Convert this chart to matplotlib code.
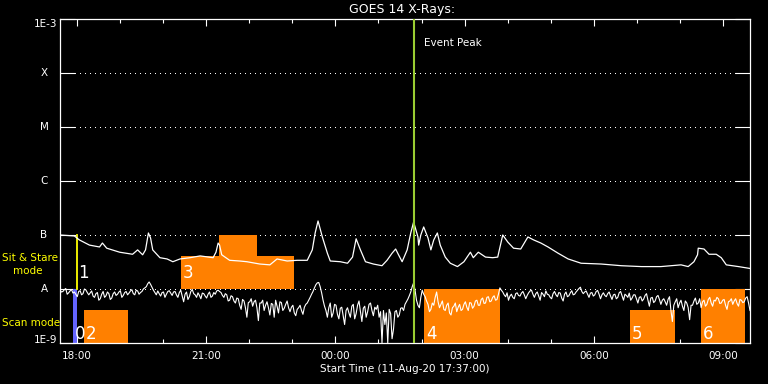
import numpy as np
import matplotlib
matplotlib.use("Agg")
import matplotlib.pyplot as plt
from matplotlib.patches import Rectangle
import matplotlib.transforms as mtransforms
from matplotlib.ticker import NullLocator

# ---------------- data ----------------
title = "GOES 14 X-Rays:"
xlabel = "Start Time (11-Aug-20 17:37:00)"
span_minutes = 960  # 17:37 -> 09:37

# long channel (1-8 A): minutes after 17:37, flux in units of 1e-8 W/m^2
long_t = [0, 20, 27, 41, 55, 59, 65, 83, 101, 108,
          115, 119, 123, 126, 129, 139, 149, 157, 167, 181,
          195, 213, 217, 220, 222, 225, 236, 250, 260, 278,
          292, 302, 316, 330, 344, 351, 355, 359, 365, 372,
          376, 390, 400, 407, 412, 418, 425, 436, 448, 455,
          462, 467, 471, 476, 483, 488, 492, 498, 499, 502,
          506, 512, 516, 520, 525, 529, 536, 543, 553, 562,
          571, 575, 582, 592, 602, 609, 616, 623, 631, 641,
          651, 659, 669, 679, 693, 707, 725, 753, 781, 809,
          836, 864, 874, 882, 887, 888, 896, 903, 913, 920,
          927, 944, 960]
long_flux_e8 = [10, 9.6, 8.1, 6.5, 6.0, 7.1, 5.7, 4.8, 4.4, 5.3,
                4.3, 5.3, 10.9, 8.8, 5.3, 3.8, 3.6, 3.2, 3.6, 3.8,
                4.1, 3.8, 4.8, 7.1, 6.5, 4.3, 3.4, 3.3, 3.2, 2.9,
                2.8, 3.6, 3.3, 3.4, 3.4, 5.3, 10.9, 18.2, 9.2, 4.6,
                3.3, 3.2, 3.0, 3.9, 8.5, 5.3, 3.2, 2.9, 2.7, 3.4,
                4.6, 5.5, 4.3, 3.2, 5.3, 10.9, 17.4, 9.2, 6.5, 10,
                14.1, 8.8, 5.3, 8.1, 10.9, 6.5, 3.9, 3.0, 2.6, 3.2,
                4.8, 3.8, 4.8, 3.9, 3.8, 3.9, 10, 7.4, 5.7, 5.5,
                9.2, 8.1, 7.1, 6.0, 4.6, 3.6, 3.0, 2.9, 2.7, 2.6,
                2.6, 2.8, 2.6, 3.2, 4.3, 5.7, 5.5, 4.4, 4.4, 3.8,
                2.8, 2.6, 2.4]

# short channel (0.5-4 A): one sample every 2 minutes, units of 1e-8 W/m^2
short_step_min = 2
short_flux_e8 = [
    0.95, 0.88, 0.90, 0.97, 1.02, 0.80, 0.85, 0.92, 0.98, 0.84, 0.88, 0.80, 0.72, 0.90, 0.93, 0.78, 0.82, 1.00, 0.96, 0.86,
    0.78, 0.85, 0.92, 0.74, 0.70, 0.82, 0.86, 0.62, 0.66, 0.80, 0.90, 0.70, 0.75, 0.88, 0.82, 0.64, 0.68, 0.82, 0.88, 0.76,
    0.80, 0.88, 0.93, 0.70, 0.76, 0.86, 0.90, 0.78, 0.84, 0.92, 0.97, 0.82, 0.78, 0.95, 0.92, 0.80, 0.86, 0.90, 1.00, 1.05,
    1.10, 1.25, 1.35, 1.22, 1.08, 0.95, 0.86, 0.78, 0.92, 0.82, 0.74, 0.86, 0.88, 0.70, 0.80, 0.90, 0.93, 0.84, 0.76, 0.88,
    0.90, 0.78, 0.70, 0.86, 0.95, 0.74, 0.58, 0.80, 0.88, 0.64, 0.72, 0.90, 0.98, 0.82, 0.78, 0.70, 0.85, 0.76, 0.66, 0.84,
    0.82, 0.74, 0.68, 0.80, 0.88, 0.70, 0.74, 0.86, 0.80, 0.92, 0.95, 0.90, 0.86, 0.76, 0.70, 0.82, 0.78, 0.60, 0.62, 0.75,
    0.72, 0.60, 0.55, 0.68, 0.66, 0.50, 0.42, 0.64, 0.60, 0.45, 0.30, 0.56, 0.58, 0.66, 0.48, 0.58, 0.62, 0.45, 0.26, 0.55,
    0.55, 0.62, 0.40, 0.50, 0.58, 0.45, 0.33, 0.54, 0.52, 0.30, 0.62, 0.48, 0.36, 0.58, 0.56, 0.40, 0.44, 0.52, 0.60, 0.45,
    0.38, 0.46, 0.50, 0.36, 0.32, 0.42, 0.45, 0.50, 0.40, 0.34, 0.46, 0.52, 0.55, 0.62, 0.70, 0.80, 0.90, 1.05, 1.20, 1.30,
    1.32, 1.10, 0.85, 0.62, 0.48, 0.40, 0.30, 0.45, 0.55, 0.30, 0.36, 0.52, 0.50, 0.34, 0.28, 0.44, 0.46, 0.32, 0.22, 0.40,
    0.45, 0.36, 0.30, 0.48, 0.52, 0.28, 0.35, 0.50, 0.60, 0.38, 0.25, 0.44, 0.48, 0.30, 0.38, 0.52, 0.55, 0.40, 0.32, 0.46,
    0.42, 0.50, 0.30, 0.38, 0.10, 0.40, 0.22, 0.36, 0.10, 0.42, 0.35, 0.12, 0.18, 0.38, 0.40, 0.30, 0.33, 0.44, 0.45, 0.40,
    0.52, 0.58, 0.65, 0.75, 0.88, 1.10, 1.30, 0.95, 0.62, 0.50, 0.45, 0.70, 0.95, 0.80, 0.72, 0.60, 0.52, 0.38, 0.42, 0.55,
    0.50, 0.70, 0.88, 0.58, 0.45, 0.52, 0.60, 0.42, 0.40, 0.50, 0.55, 0.36, 0.33, 0.45, 0.48, 0.55, 0.38, 0.46, 0.52, 0.40,
    0.42, 0.52, 0.58, 0.46, 0.40, 0.56, 0.55, 0.44, 0.48, 0.60, 0.62, 0.50, 0.50, 0.64, 0.68, 0.54, 0.55, 0.70, 0.72, 0.58,
    0.60, 0.70, 0.75, 0.62, 0.64, 0.80, 1.05, 0.95, 0.88, 0.78, 0.72, 0.85, 0.62, 0.74, 0.80, 0.70, 0.66, 0.82, 0.85, 0.76,
    0.74, 0.84, 0.90, 0.78, 0.66, 0.76, 0.85, 0.92, 0.95, 0.80, 0.70, 0.82, 0.88, 0.74, 0.62, 0.86, 0.80, 0.72, 0.92, 0.80,
    0.78, 0.70, 0.66, 0.82, 0.90, 0.78, 0.72, 0.86, 0.84, 0.68, 0.60, 0.80, 0.88, 0.72, 0.75, 0.85, 0.93, 0.78, 0.80, 0.88,
    0.95, 1.02, 1.08, 0.90, 0.82, 0.88, 0.92, 0.80, 0.70, 0.84, 0.86, 0.74, 0.78, 0.90, 0.94, 0.80, 0.66, 0.78, 0.85, 0.76,
    0.72, 0.82, 0.88, 0.74, 0.64, 0.78, 0.80, 0.66, 0.70, 0.85, 0.90, 0.75, 0.62, 0.80, 0.76, 0.70, 0.84, 0.62, 0.68, 0.78,
    0.78, 0.66, 0.55, 0.70, 0.72, 0.60, 0.65, 0.76, 0.82, 0.62, 0.48, 0.68, 0.70, 0.56, 0.60, 0.72, 0.76, 0.64, 0.52, 0.62,
    0.66, 0.58, 0.50, 0.64, 0.72, 0.40, 0.25, 0.50, 0.58, 0.66, 0.45, 0.55, 0.62, 0.48, 0.40, 0.60, 0.55, 0.45, 0.27, 0.50,
    0.50, 0.60, 0.68, 0.52, 0.55, 0.66, 0.45, 0.58, 0.62, 0.48, 0.52, 0.64, 0.70, 0.55, 0.48, 0.62, 0.60, 0.70, 0.66, 0.54,
    0.55, 0.62, 0.64, 0.50, 0.42, 0.58, 0.60, 0.66, 0.52, 0.60, 0.66, 0.54, 0.48, 0.64, 0.62, 0.56, 0.58, 0.68, 0.72, 0.55,
    0.40]

# observation blocks (minutes after 17:37, flux limits)
block_start = [18.5, 34, 168, 221, 507, 793, 892]
block_end = [23, 95, 326, 274, 612, 855, 953]
block_low = [1e-9, 1e-9, 1e-8, 4.1e-8, 1e-9, 1e-9, 1e-9]
block_high = [1e-8, 4.1e-9, 4.1e-8, 1e-7, 1e-8, 4.1e-9, 1e-8]
block_kind = ["blue", "orange", "orange", "orange", "orange", "orange", "orange"]

# sit & stare marker "1"
marker1_t = 23
marker1_low, marker1_high = 1e-8, 1e-7

# block labels: text, minute, band ("scan" or "sit")
label_text = ["0", "1", "2", "3", "4", "5", "6"]
label_t = [18.5, 23, 34, 168, 507, 793, 892]
label_band = ["scan", "sit", "scan", "sit", "scan", "scan", "scan"]

event_peak_t = 493

level_values = [1e-9, 1e-8, 1e-7, 1e-6, 1e-5, 1e-4, 1e-3]
level_labels = ["1E-9", "A", "B", "C", "M", "X", "1E-3"]

major_t = [23, 203, 383, 563, 743, 923]
major_labels = ["18:00", "21:00", "00:00", "03:00", "06:00", "09:00"]
minor_t = [83, 143, 263, 323, 443, 503, 623, 683, 803, 863]

# ---------------- plot ----------------
W, H = 768, 384
fig = plt.figure(figsize=(W / 100, H / 100), dpi=100, facecolor="black")
L, R, T, B = 60, 750, 19, 343
ax = fig.add_axes([L / W, (H - B) / H, (R - L) / W, (B - T) / H], facecolor="black")
ax.set_yscale("log")
ax.set_ylim(1e-9, 1e-3)
ax.set_xlim(0, span_minutes)

for sp in ax.spines.values():
    sp.set_color("white")
    sp.set_linewidth(0.9)

fs = 7.5
ax.set_xticks(major_t)
ax.set_xticklabels(major_labels, color="white", fontsize=fs)
ax.set_xticks(minor_t, minor=True)
ax.tick_params(axis="x", which="major", direction="in", length=5, width=0.8,
               color="white", top=True, pad=6)
ax.tick_params(axis="x", which="minor", direction="in", length=3, width=0.8,
               color="white", top=True)
ax.set_yticks(level_values)
ax.set_yticklabels([])
ax.yaxis.set_minor_locator(NullLocator())
ax.tick_params(axis="y", which="major", direction="in", length=10.5, width=0.8,
               color="white", right=True)

# dotted level lines
for v in level_values[1:-1]:
    ax.axhline(v, color="white", lw=0.72, linestyle=(0, (1, 5)), zorder=1,
               antialiased=False)

# level labels
ytr = ax.get_yaxis_transform()
for v, lab in zip(level_values, level_labels):
    if lab == "1E-3":
        ax.text(-3 / (R - L), v, lab, transform=ytr, ha="right", va="top",
                color="white", fontsize=fs)
    elif lab == "1E-9":
        ax.text(-3 / (R - L), v, lab, transform=ytr, ha="right", va="baseline",
                color="white", fontsize=fs)
    else:
        ax.text(-16 / (R - L), v, lab, transform=ytr, ha="center", va="center",
                color="white", fontsize=fs)

# observation blocks
colors = {"blue": "#6464ff", "orange": "#ff8000"}
for s, e, lo, hi, k in zip(block_start, block_end, block_low, block_high, block_kind):
    ax.add_patch(Rectangle((s, lo), e - s, hi - lo, facecolor=colors[k],
                           edgecolor="none", zorder=2))
ax.plot([marker1_t, marker1_t], [marker1_low, marker1_high], color="#ffff00",
        lw=1.3, zorder=3)

# curves
short_t = np.arange(len(short_flux_e8)) * short_step_min
ax.plot(long_t, np.array(long_flux_e8) * 1e-8, color="white", lw=0.9, zorder=4)
ax.plot(short_t, np.array(short_flux_e8) * 1e-8, color="white", lw=0.8, zorder=4)

# block labels
for txt, t, band in zip(label_text, label_t, label_band):
    base = 1e-9 if band == "scan" else 1e-8
    dy = 4 if band == "scan" else 11
    tr = mtransforms.offset_copy(ax.transData, fig=fig, x=1.5, y=dy, units="dots")
    ax.text(t, base, txt, transform=tr, ha="left", va="baseline",
            color="white", fontsize=12, zorder=6)

# event peak
ax.axvline(event_peak_t, color="#9acd32", lw=1.5, zorder=5)
tr = mtransforms.offset_copy(ax.get_xaxis_transform(), fig=fig, x=10, y=0, units="dots")
ax.text(event_peak_t, (B - 42.5) / (B - T), "Event Peak", transform=tr,
        ha="left", va="center", color="white", fontsize=fs)

# titles and side labels
fig.text(402 / W, (H - 9) / H, title, ha="center", va="center", color="white", fontsize=9)
fig.text(405 / W, (H - 369) / H, xlabel, ha="center", va="center", color="white", fontsize=fs)
fig.text(2 / W, (H - 258) / H, "Sit & Stare", ha="left", va="center", color="#ffff00", fontsize=fs)
fig.text(13 / W, (H - 271) / H, "mode", ha="left", va="center", color="#ffff00", fontsize=fs)
fig.text(2 / W, (H - 323) / H, "Scan mode", ha="left", va="center", color="#ffff00", fontsize=fs)

fig.savefig("out.png", dpi=100, facecolor="black")
